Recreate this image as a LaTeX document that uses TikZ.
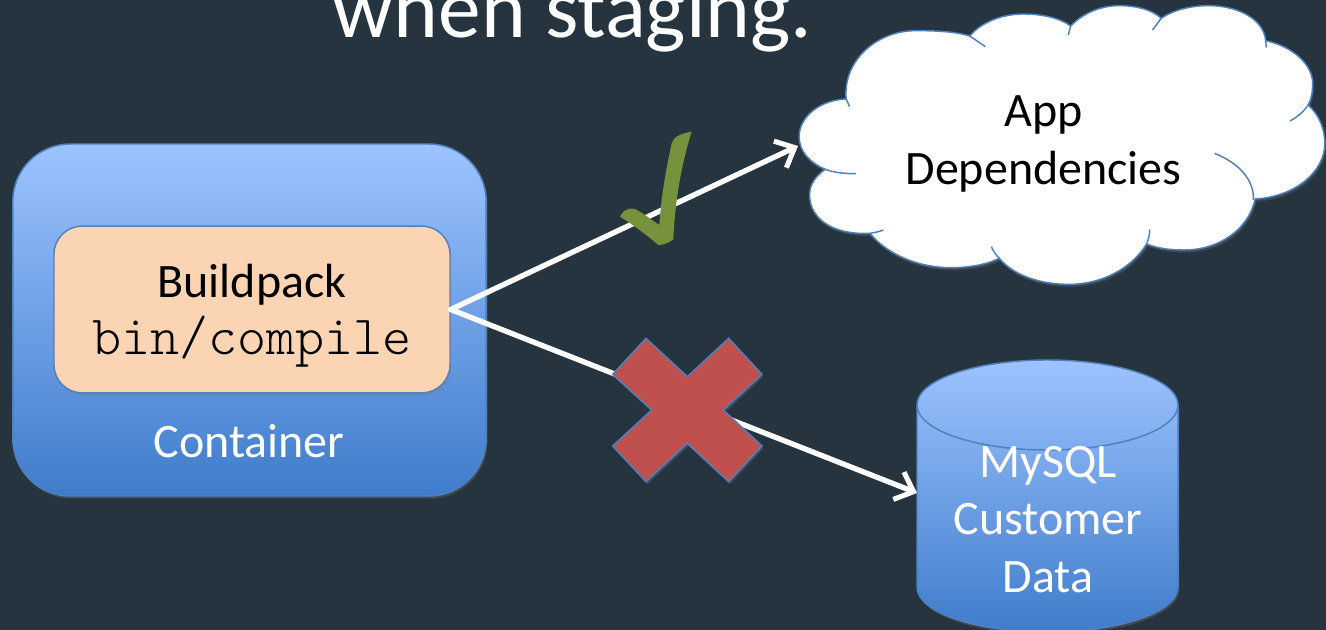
\documentclass[tikz,border=0pt]{standalone}
\usepackage{fontspec}
\setmainfont{Carlito}
\newfontfamily\codefont{Latin Modern Mono Light}
\usetikzlibrary{arrows.meta,shadows}
\definecolor{bgc}{HTML}{25343F}
\definecolor{edgeblue}{HTML}{4F81BD}
\definecolor{gradtop}{HTML}{9DC3FF}
\definecolor{gradmid}{HTML}{7BA5E8}
\definecolor{gradbot}{HTML}{3F7CCB}
\definecolor{peach}{HTML}{FBD4B4}
\definecolor{crossred}{HTML}{C0504D}
\definecolor{checkgreen}{HTML}{76923C}
\tikzset{
  softshadow/.style={drop shadow={opacity=.3,shadow xshift=1pt,shadow yshift=-2pt}},
  gradfill/.style={top color=gradtop,middle color=gradmid,bottom color=gradbot,draw=edgeblue,line width=1.1pt},
  containerbox/.style={rectangle,gradfill,rounded corners=43pt,minimum width=355pt,minimum height=264pt,inner sep=0pt,softshadow},
  packbox/.style={rectangle,fill=peach,draw=edgeblue,line width=1.1pt,rounded corners=21pt,minimum width=297pt,minimum height=125pt,inner sep=0pt,softshadow},
  bigtext/.style={font=\fontsize{36}{43.5}\selectfont,align=center,inner sep=0pt,text=#1},
  flow/.style={draw=white,line width=4pt,line cap=round,line join=round,-{Straight Barb[length=12pt,width=22pt,line width=3.8pt]}},
  cloudedge/.style={draw=edgeblue,line width=1.1pt},
  zoomed/.style={x=0.25pt,y=-0.25pt},
  cloudzoomed/.style={x=0.2611pt,y=-0.25pt}
}
\begin{document}
\begin{tikzpicture}[x=0.75pt,y=-0.75pt]
\useasboundingbox (0,0) rectangle (1326,630);
\clip (0,0) rectangle (1326,630);
\fill[bgc] (0,0) rectangle (1326,630);

\node[font=\fontsize{64}{64}\selectfont,text=white,inner sep=0pt,anchor=base] (title) at (572.5,37.5) {when staging.};

% container
\node[containerbox] (container) at (249.5,320) {};
\node[packbox] (pack) at (252,309.5) {};
\node[bigtext=black,anchor=base] (packtext) at (252,298) {Buildpack};
\node[text=black,inner sep=0pt,anchor=base,font=\fontsize{41.5}{44}\selectfont\codefont] (packcode) at (252,354) {bin/compile};
\node[bigtext=white] (containertext) at (249,441) {Container};

% cloud
\begin{scope}[shift={(780,0)},cloudzoomed]
\path[fill=white,cloudedge,drop shadow={opacity=.25,shadow xshift=1pt,shadow yshift=-2pt}]
  (130,508) .. controls (80,485) and (55,450) .. (55,410)
  .. controls (55,350) and (115,300) .. (190,297)
  .. controls (180,180) and (280,92) .. (390,92)
  .. controls (450,92) and (505,95) .. (545,108)
  .. controls (580,65) and (640,42) .. (700,42)
  .. controls (755,42) and (805,55) .. (835,78)
  .. controls (870,40) and (920,17) .. (975,17)
  .. controls (1025,17) and (1070,30) .. (1095,55)
  .. controls (1130,30) and (1180,17) .. (1230,17)
  .. controls (1320,17) and (1390,60) .. (1395,122)
  .. controls (1475,140) and (1530,195) .. (1530,250)
  .. controls (1530,275) and (1527,297) .. (1517,315)
  .. controls (1550,345) and (1565,390) .. (1565,430)
  .. controls (1565,515) and (1480,590) .. (1365,597)
  .. controls (1345,690) and (1260,750) .. (1160,750)
  .. controls (1120,750) and (1085,745) .. (1053,732)
  .. controls (1010,805) and (925,853) .. (830,853)
  .. controls (745,853) and (670,825) .. (630,775)
  .. controls (590,795) and (540,803) .. (490,803)
  .. controls (400,803) and (310,765) .. (258,700)
  .. controls (150,705) and (85,655) .. (85,585)
  .. controls (85,555) and (100,530) .. (130,508) -- cycle;
\draw[cloudedge] (130,508) .. controls (155,518) and (185,521) .. (218,521);
\draw[cloudedge] (190,297) -- (200,320);
\draw[cloudedge] (545,108) -- (590,140);
\draw[cloudedge] (835,78) -- (828,105);
\draw[cloudedge] (1095,55) -- (1070,90);
\draw[cloudedge] (1395,122) -- (1397,143);
\draw[cloudedge] (1517,315) .. controls (1505,335) and (1487,350) .. (1465,363);
\draw[cloudedge] (1248,460) .. controls (1320,490) and (1362,540) .. (1360,600);
\draw[cloudedge] (1062,688) .. controls (1062,705) and (1058,720) .. (1053,732);
\draw[cloudedge] (630,775) .. controls (620,765) and (612,752) .. (607,740);
\draw[cloudedge] (258,700) .. controls (272,698) and (285,695) .. (297,690);
\end{scope}
\node[bigtext=black,anchor=base] (cloudtext1) at (1043.5,126.5) {App};
\node[bigtext=black,anchor=base] (cloudtext2) at (1043.5,184.5) {Dependencies};
\coordinate (cloudtip) at (798,146);

% database
\path[gradfill,softshadow] (917,405) .. controls (917,380) and (975,360) .. (1047.5,360)
  .. controls (1120,360) and (1178,380) .. (1178,405) -- (1178,587)
  .. controls (1178,612) and (1120,632) .. (1047.5,632)
  .. controls (975,632) and (917,612) .. (917,587) -- cycle;
\draw[edgeblue,line width=1.1pt] (917,405) .. controls (917,430) and (975,450) .. (1047.5,450)
  .. controls (1120,450) and (1178,430) .. (1178,405);
\node[bigtext=white,anchor=base] (dbtext1) at (1048,477) {MySQL};
\node[bigtext=white,anchor=base] (dbtext2) at (1048,534) {Customer};
\node[bigtext=white,anchor=base] (dbtext3) at (1048,592) {Data};
\coordinate (dbtip) at (917,493);

% connectors
\draw[flow] (pack.east) -- (cloudtip);
\draw[flow] (pack.east) -- (dbtip);

% marks
\begin{scope}[shift={(580,120)},zoomed]
\path[fill=checkgreen] (335,35) .. controls (305,40) and (280,50) .. (275,70)
  .. controls (255,160) and (243,240) .. (238,315)
  .. controls (215,300) and (190,280) .. (165,267)
  .. controls (145,260) and (125,275) .. (120,290)
  .. controls (160,315) and (200,345) .. (235,375)
  .. controls (250,375) and (268,368) .. (280,358)
  .. controls (285,240) and (305,130) .. (335,35) -- cycle;
\path[fill=crossred,draw=edgeblue,line width=1.1pt,line join=miter,softshadow]
  (198,655) -- (322,770) -- (446,655) -- (546,763) -- (430,870) -- (546,978)
  -- (446,1085) -- (322,970) -- (198,1085) -- (98,978) -- (215,870) -- (98,763) -- cycle;
\end{scope}
\end{tikzpicture}
\end{document}
